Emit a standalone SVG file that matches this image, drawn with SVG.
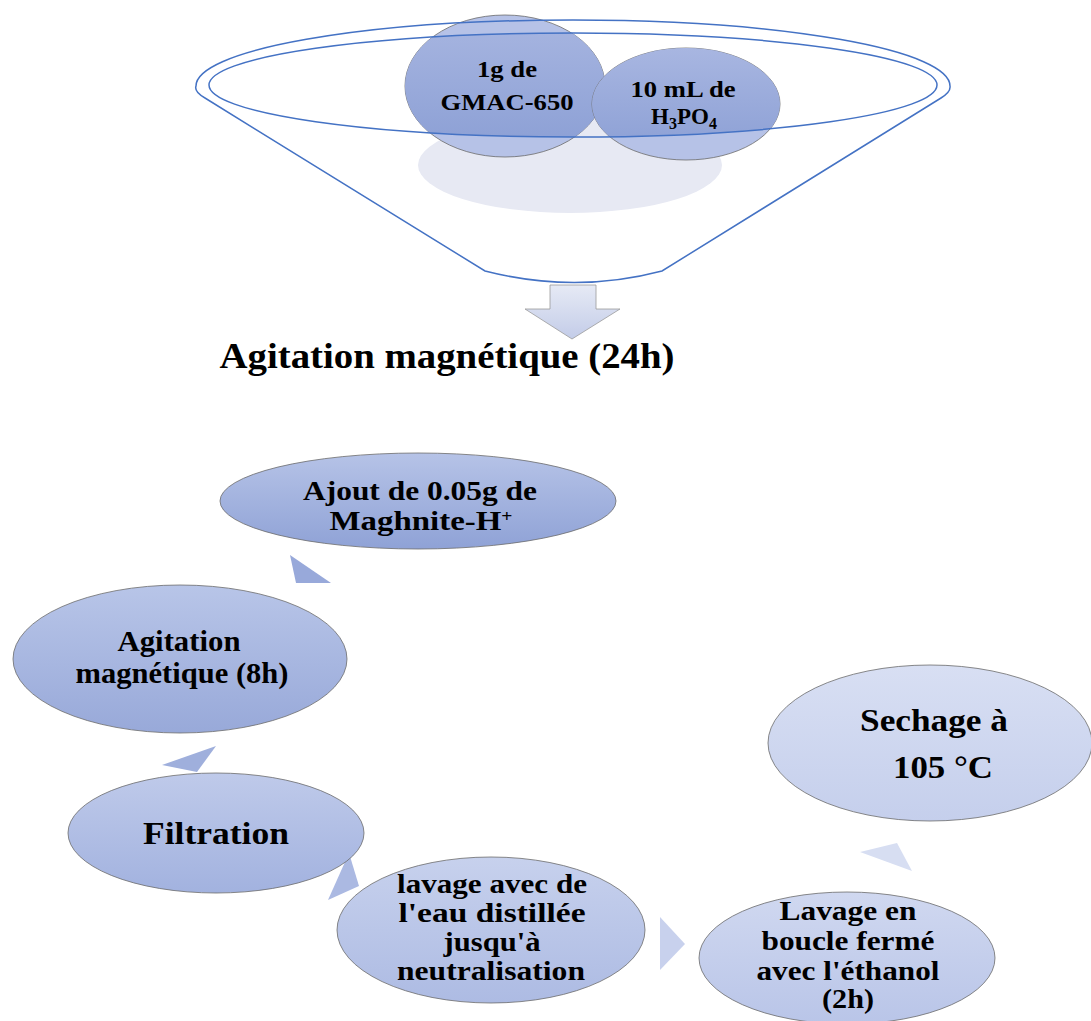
<svg xmlns="http://www.w3.org/2000/svg" width="1091" height="1021" viewBox="0 0 1091 1021">
<style>
text{font-family:"Liberation Serif","Times New Roman",serif;font-weight:bold;fill:#000;text-anchor:middle}
.node{stroke:#6b6b6b;stroke-width:0.8}
.fun{fill:none;stroke:#4472c4;stroke-width:1.5}
</style>
<defs>
<clipPath id="inner"><ellipse cx="573" cy="85" rx="364" ry="52"/></clipPath>
<linearGradient id="gc" x1="0" y1="0" x2="0" y2="1"><stop offset="0" stop-color="#a8b6e1"/><stop offset="1" stop-color="#8a9ed4"/></linearGradient>
<linearGradient id="g1" x1="0" y1="0" x2="0" y2="1"><stop offset="0" stop-color="#b6c3e7"/><stop offset="1" stop-color="#8fa2d6"/></linearGradient>
<linearGradient id="g2" x1="0" y1="0" x2="0" y2="1"><stop offset="0" stop-color="#b8c5e8"/><stop offset="1" stop-color="#98a9d9"/></linearGradient>
<linearGradient id="g3" x1="0" y1="0" x2="0" y2="1"><stop offset="0" stop-color="#bfcaea"/><stop offset="1" stop-color="#a2b2df"/></linearGradient>
<linearGradient id="g4" x1="0" y1="0" x2="0" y2="1"><stop offset="0" stop-color="#c7d1ed"/><stop offset="1" stop-color="#adbbe3"/></linearGradient>
<linearGradient id="g5" x1="0" y1="0" x2="0" y2="1"><stop offset="0" stop-color="#d0d8f0"/><stop offset="1" stop-color="#b9c5e8"/></linearGradient>
<linearGradient id="g6" x1="0" y1="0" x2="0" y2="1"><stop offset="0" stop-color="#d8dff3"/><stop offset="1" stop-color="#c5cfec"/></linearGradient>
<linearGradient id="ga" x1="0" y1="0" x2="0" y2="1"><stop offset="0" stop-color="#e6eaf5"/><stop offset="1" stop-color="#c3cce8"/></linearGradient>
</defs>

<g id="funnel-shadow">
<ellipse cx="570" cy="165" rx="152" ry="48" fill="#e7e9f3"/>
</g>

<g id="node-gmac">
<ellipse cx="505" cy="86" rx="100" ry="71" fill="#b6c2e7" class="node"/>
<ellipse cx="505" cy="86" rx="100" ry="71" fill="url(#gc)" clip-path="url(#inner)"/>
<text font-size="23" x="507" y="77" textLength="60" lengthAdjust="spacingAndGlyphs">1g de</text>
<text font-size="23" x="507" y="110" textLength="133" lengthAdjust="spacingAndGlyphs">GMAC-650</text>
</g>

<g id="node-h3po4">
<ellipse cx="686" cy="104" rx="94" ry="56" fill="#b6c2e7" class="node"/>
<ellipse cx="686" cy="104" rx="94" ry="56" fill="url(#gc)" clip-path="url(#inner)"/>
<text font-size="23" x="683" y="97" textLength="105" lengthAdjust="spacingAndGlyphs">10 mL de</text>
<text font-size="23" x="684" y="124">H<tspan dy="5" font-size="16">3</tspan><tspan dy="-5">PO</tspan><tspan dy="5" font-size="16">4</tspan></text>
</g>

<g id="funnel">
<path class="fun" d="M205,98 Q194,92 196,86 A377 66 0 0 1 950,86 Q951,92 941,98 L662,271 Q575,294 485,271 Z"/>
<ellipse class="fun" cx="573" cy="85" rx="364" ry="52"/>
</g>

<g id="connectors">
<path d="M550,285 H596 V309 H620 L572,339 L525,309 H550 Z" fill="url(#ga)" stroke="#9a9a9a" stroke-width="0.8"/>
<polygon points="290,555 296,583 331,583" fill="#98a9da"/>
<polygon points="162,765 216,746 197,772" fill="#9fafdc"/>
<polygon points="349,853 359,886 328,900" fill="#abb9e2"/>
<polygon points="660,917 685,944 660,970" fill="#c8d1ed"/>
<polygon points="860,852 897,843 912,871" fill="#d7def2"/>
</g>

<g id="label-agitation-24h">
<text font-size="35" x="447" y="368" textLength="455" lengthAdjust="spacingAndGlyphs">Agitation magnétique (24h)</text>
</g>

<g id="node-ajout">
<ellipse cx="418" cy="501" rx="198" ry="48" fill="url(#g1)" class="node"/>
<text font-size="27" x="420" y="500" textLength="234" lengthAdjust="spacingAndGlyphs">Ajout de 0.05g de</text>
<text font-size="27" x="421" y="530" textLength="183" lengthAdjust="spacingAndGlyphs">Maghnite-H<tspan dy="-8" font-size="16">+</tspan></text>
</g>

<g id="node-agitation-8h">
<ellipse cx="180" cy="659" rx="167" ry="74" fill="url(#g2)" class="node"/>
<text font-size="29" x="179" y="651" textLength="123" lengthAdjust="spacingAndGlyphs">Agitation</text>
<text font-size="29" x="182" y="683" textLength="213" lengthAdjust="spacingAndGlyphs">magnétique (8h)</text>
</g>

<g id="node-filtration">
<ellipse cx="216" cy="833" rx="148" ry="60" fill="url(#g3)" class="node"/>
<text font-size="32" x="216" y="844" textLength="146" lengthAdjust="spacingAndGlyphs">Filtration</text>
</g>

<g id="node-lavage-eau">
<ellipse cx="491" cy="930" rx="154" ry="73" fill="url(#g4)" class="node"/>
<text font-size="28" x="492" y="893" textLength="190" lengthAdjust="spacingAndGlyphs">lavage avec de</text>
<text font-size="28" x="492" y="922" textLength="187" lengthAdjust="spacingAndGlyphs">l'eau distillée</text>
<text font-size="28" x="492" y="951" textLength="97" lengthAdjust="spacingAndGlyphs">jusqu'à</text>
<text font-size="28" x="491" y="980" textLength="188" lengthAdjust="spacingAndGlyphs">neutralisation</text>
</g>

<g id="node-lavage-ethanol">
<ellipse cx="847" cy="958" rx="148" ry="66" fill="url(#g5)" class="node"/>
<text font-size="28" x="848" y="920" textLength="137" lengthAdjust="spacingAndGlyphs">Lavage en</text>
<text font-size="28" x="848" y="950" textLength="173" lengthAdjust="spacingAndGlyphs">boucle fermé</text>
<text font-size="28" x="848" y="980" textLength="183" lengthAdjust="spacingAndGlyphs">avec l'éthanol</text>
<text font-size="28" x="848" y="1008" textLength="52" lengthAdjust="spacingAndGlyphs">(2h)</text>
</g>

<g id="node-sechage">
<ellipse cx="930" cy="743" rx="162" ry="78" fill="url(#g6)" class="node"/>
<text font-size="32" x="934" y="731" textLength="148" lengthAdjust="spacingAndGlyphs">Sechage à</text>
<text font-size="32" x="943" y="778" textLength="100" lengthAdjust="spacingAndGlyphs">105 °C</text>
</g>
</svg>
